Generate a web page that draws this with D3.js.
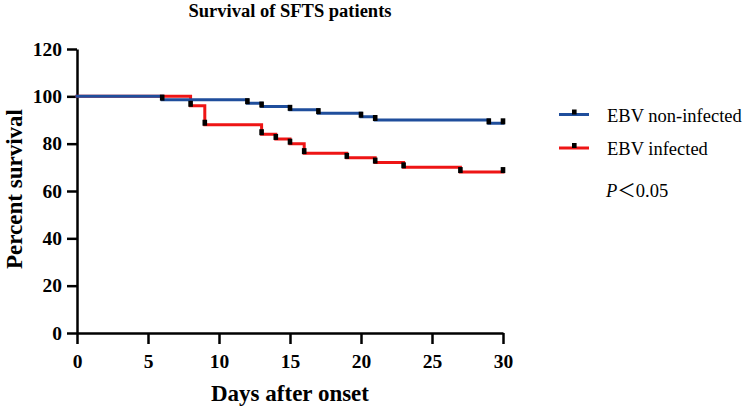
<!DOCTYPE html>
<html>
<head>
<meta charset="utf-8">
<script src="https://cdn.jsdelivr.net/npm/d3@7"></script>
<style>
  html, body { margin: 0; padding: 0; background: #fff; }
  svg { display: block; }
  text { font-family: "Liberation Serif", "Times New Roman", serif; }
</style>
</head>
<body>
<svg id="chart" width="744" height="408"></svg>
<script>
// ---- Data ----
const seriesNames = ["EBV non-infected", "EBV infected"];
const xTicks = [0, 5, 10, 15, 20, 25, 30];
const yTicks = [0, 20, 40, 60, 80, 100, 120];

// Kaplan-Meier steps: [day, percent survival after that day]
const nonInfectedSteps = [[0, 100], [6, 98.6], [12, 97.1], [13, 95.7], [15, 94.3], [17, 92.9], [20, 91.4], [21, 90.0], [29, 88.6], [30, 88.6]];
const infectedSteps = [[0, 100], [8, 96], [9, 88], [13, 84], [14, 82], [15, 80], [16, 76], [19, 74], [21, 72], [23, 70], [27, 68], [30, 68]];

// censor tick marks (days)
const nonInfectedCensor = [6, 12, 13, 15, 17, 20, 21, 29, 30];
const infectedCensor = [8, 9, 13, 14, 15, 16, 19, 21, 23, 27, 30];

const colors = ["#1f4e9c", "#ee1515"];

// ---- Layout ----
const svg = d3.select("#chart");
const m = { left: 77, right: 503, top: 49, bottom: 333 };
const x = d3.scaleLinear().domain([0, 30]).range([m.left, m.right]);
const y = d3.scaleLinear().domain([0, 120]).range([m.bottom, m.top]);

const font = '"Liberation Serif", "Times New Roman", serif';

// Title
svg.append("text")
  .attr("x", (m.left + m.right) / 2).attr("y", 17)
  .attr("text-anchor", "middle")
  .style("font-weight", "bold").style("font-size", "18.5px")
  .text("Survival of SFTS patients");

// Axes
const yAxis = svg.append("g").attr("transform", `translate(${m.left},0)`)
  .call(d3.axisLeft(y).tickValues(yTicks).tickSize(10).tickPadding(5).tickSizeOuter(0));
const xAxis = svg.append("g").attr("transform", `translate(0,${m.bottom})`)
  .call(d3.axisBottom(x).tickValues(xTicks).tickSize(11).tickPadding(10).tickSizeOuter(0));

[xAxis, yAxis].forEach(g => {
  g.attr("font-family", font).attr("font-size", 19.5).attr("font-weight", "bold");
  g.select(".domain").attr("stroke", "#000").attr("stroke-width", 2.5);
  g.selectAll(".tick line").attr("stroke", "#000").attr("stroke-width", 2.5);
  g.selectAll(".tick text").attr("fill", "#000")
    .style("font-family", font).style("font-weight", "bold").style("font-size", "19.5px");
});

// Axis labels
svg.append("text")
  .attr("x", (m.left + m.right) / 2).attr("y", 401)
  .attr("text-anchor", "middle")
  .style("font-weight", "bold").style("font-size", "23px")
  .text("Days after onset");

svg.append("text")
  .attr("transform", `translate(22,${(m.top + m.bottom) / 2 - 2}) rotate(-90)`)
  .attr("text-anchor", "middle")
  .style("font-weight", "bold").style("font-size", "23px")
  .text("Percent survival");

// Curves
const line = d3.line().x(d => x(d[0])).y(d => y(d[1])).curve(d3.curveStepAfter);
const levelAt = (steps, t) => {
  let v = steps[0][1];
  steps.forEach(s => { if (s[0] <= t) v = s[1]; });
  return v;
};

const allSteps = [nonInfectedSteps, infectedSteps];
const allCensor = [nonInfectedCensor, infectedCensor];

[1, 0].forEach(i => {
  svg.append("path")
    .datum(allSteps[i])
    .attr("d", line)
    .attr("fill", "none")
    .attr("stroke", colors[i])
    .attr("stroke-width", 3)
    .attr("stroke-linejoin", "miter")
    .attr("stroke-linecap", "square");
});

[0, 1].forEach(i => {
  svg.append("g").selectAll("rect")
    .data(allCensor[i])
    .join("rect")
    .attr("x", d => x(d) - 2.3)
    .attr("y", d => y(levelAt(allSteps[i], d)) - 5)
    .attr("width", 4.6)
    .attr("height", 6)
    .attr("fill", "#000");
});

// Legend
const legendY = [114.5, 148];
seriesNames.forEach((name, i) => {
  const g = svg.append("g");
  g.append("line")
    .attr("x1", 559).attr("x2", 589)
    .attr("y1", legendY[i]).attr("y2", legendY[i])
    .attr("stroke", colors[i]).attr("stroke-width", 3);
  g.append("rect")
    .attr("x", 572).attr("y", legendY[i] - 5)
    .attr("width", 4.6).attr("height", 5).attr("fill", "#000");
  g.append("text")
    .attr("x", 607).attr("y", legendY[i] + 7)
    .style("font-size", "18.5px")
    .text(name);
});

const pText = svg.append("text").attr("x", 606).attr("y", 196.5).style("font-size", "18.5px");
pText.append("tspan").style("font-style", "italic").text("P");
pText.append("tspan").style("font-family", '"Noto Sans CJK SC", "Liberation Serif", serif').text("\uFF1C");
pText.append("tspan").text("0.05");
</script>
</body>
</html>
